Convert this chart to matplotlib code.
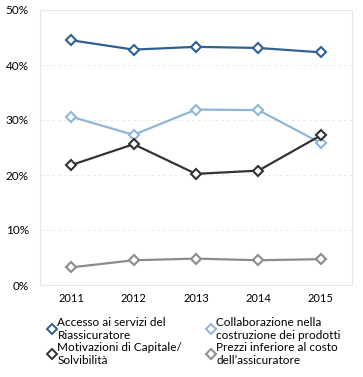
import matplotlib
matplotlib.use("Agg")
import matplotlib.pyplot as plt
from matplotlib.lines import Line2D

plt.rcParams['font.family'] = ['Lato', 'DejaVu Sans']

years = ["2011", "2012", "2013", "2014", "2015"]
accesso = [44.5, 42.8, 43.3, 43.1, 42.3]
collaborazione = [30.6, 27.3, 31.9, 31.8, 25.8]
motivazioni = [21.8, 25.6, 20.2, 20.8, 27.2]
prezzi = [3.2, 4.5, 4.8, 4.5, 4.7]

series = [
    ("Accesso ai servizi del\nRiassicuratore", accesso, "#2e6092"),
    ("Collaborazione nella\ncostruzione dei prodotti", collaborazione, "#8fb6da"),
    ("Motivazioni di Capitale/\nSolvibilità", motivazioni, "#333333"),
    ("Prezzi inferiore al costo\ndell\u2019assicuratore", prezzi, "#8c8c8c"),
]

fig = plt.figure(figsize=(3.63, 3.77), dpi=100)
ax = fig.add_axes([40 / 363, 92 / 377, 312 / 363, 275 / 377])

x = range(len(years))
for label, vals, col in series:
    ax.plot(x, vals, color=col, lw=1.6, marker="D", ms=5.5,
            mfc="white", mec=col, mew=1.5, zorder=3)

ax.set_xlim(-0.5, 4.5)
ax.set_ylim(0, 50)
ax.set_xticks(list(x))
ax.set_xticklabels(years, fontsize=8)
ax.set_yticks(range(0, 51, 10))
ax.set_yticklabels([f"{v}%" for v in range(0, 51, 10)], fontsize=8.5)
ax.tick_params(length=0, pad=6)
ax.tick_params(axis="y", pad=8)
ax.grid(axis="y", color="#ebebeb", ls=(0, (3, 3)), lw=0.7)
for s in ax.spines.values():
    s.set_color("#e6e6e6")
    s.set_linewidth(0.8)

# row-major order in the legend
order = [0, 2, 1, 3]
handles = [Line2D([], [], ls="none", marker="D", ms=5, mfc="white",
                  mec=series[i][2], mew=1.4) for i in order]
labels = [series[i][0] for i in order]
fig.legend(handles, labels, loc="upper left", bbox_to_anchor=(48 / 363, 1 - 317 / 377),
           ncol=2, frameon=False, fontsize=8.5, handlelength=0.6,
           handletextpad=0.2, columnspacing=2.1, labelspacing=0.1,
           borderaxespad=0, borderpad=0)

fig.savefig("out.png", dpi=100)
